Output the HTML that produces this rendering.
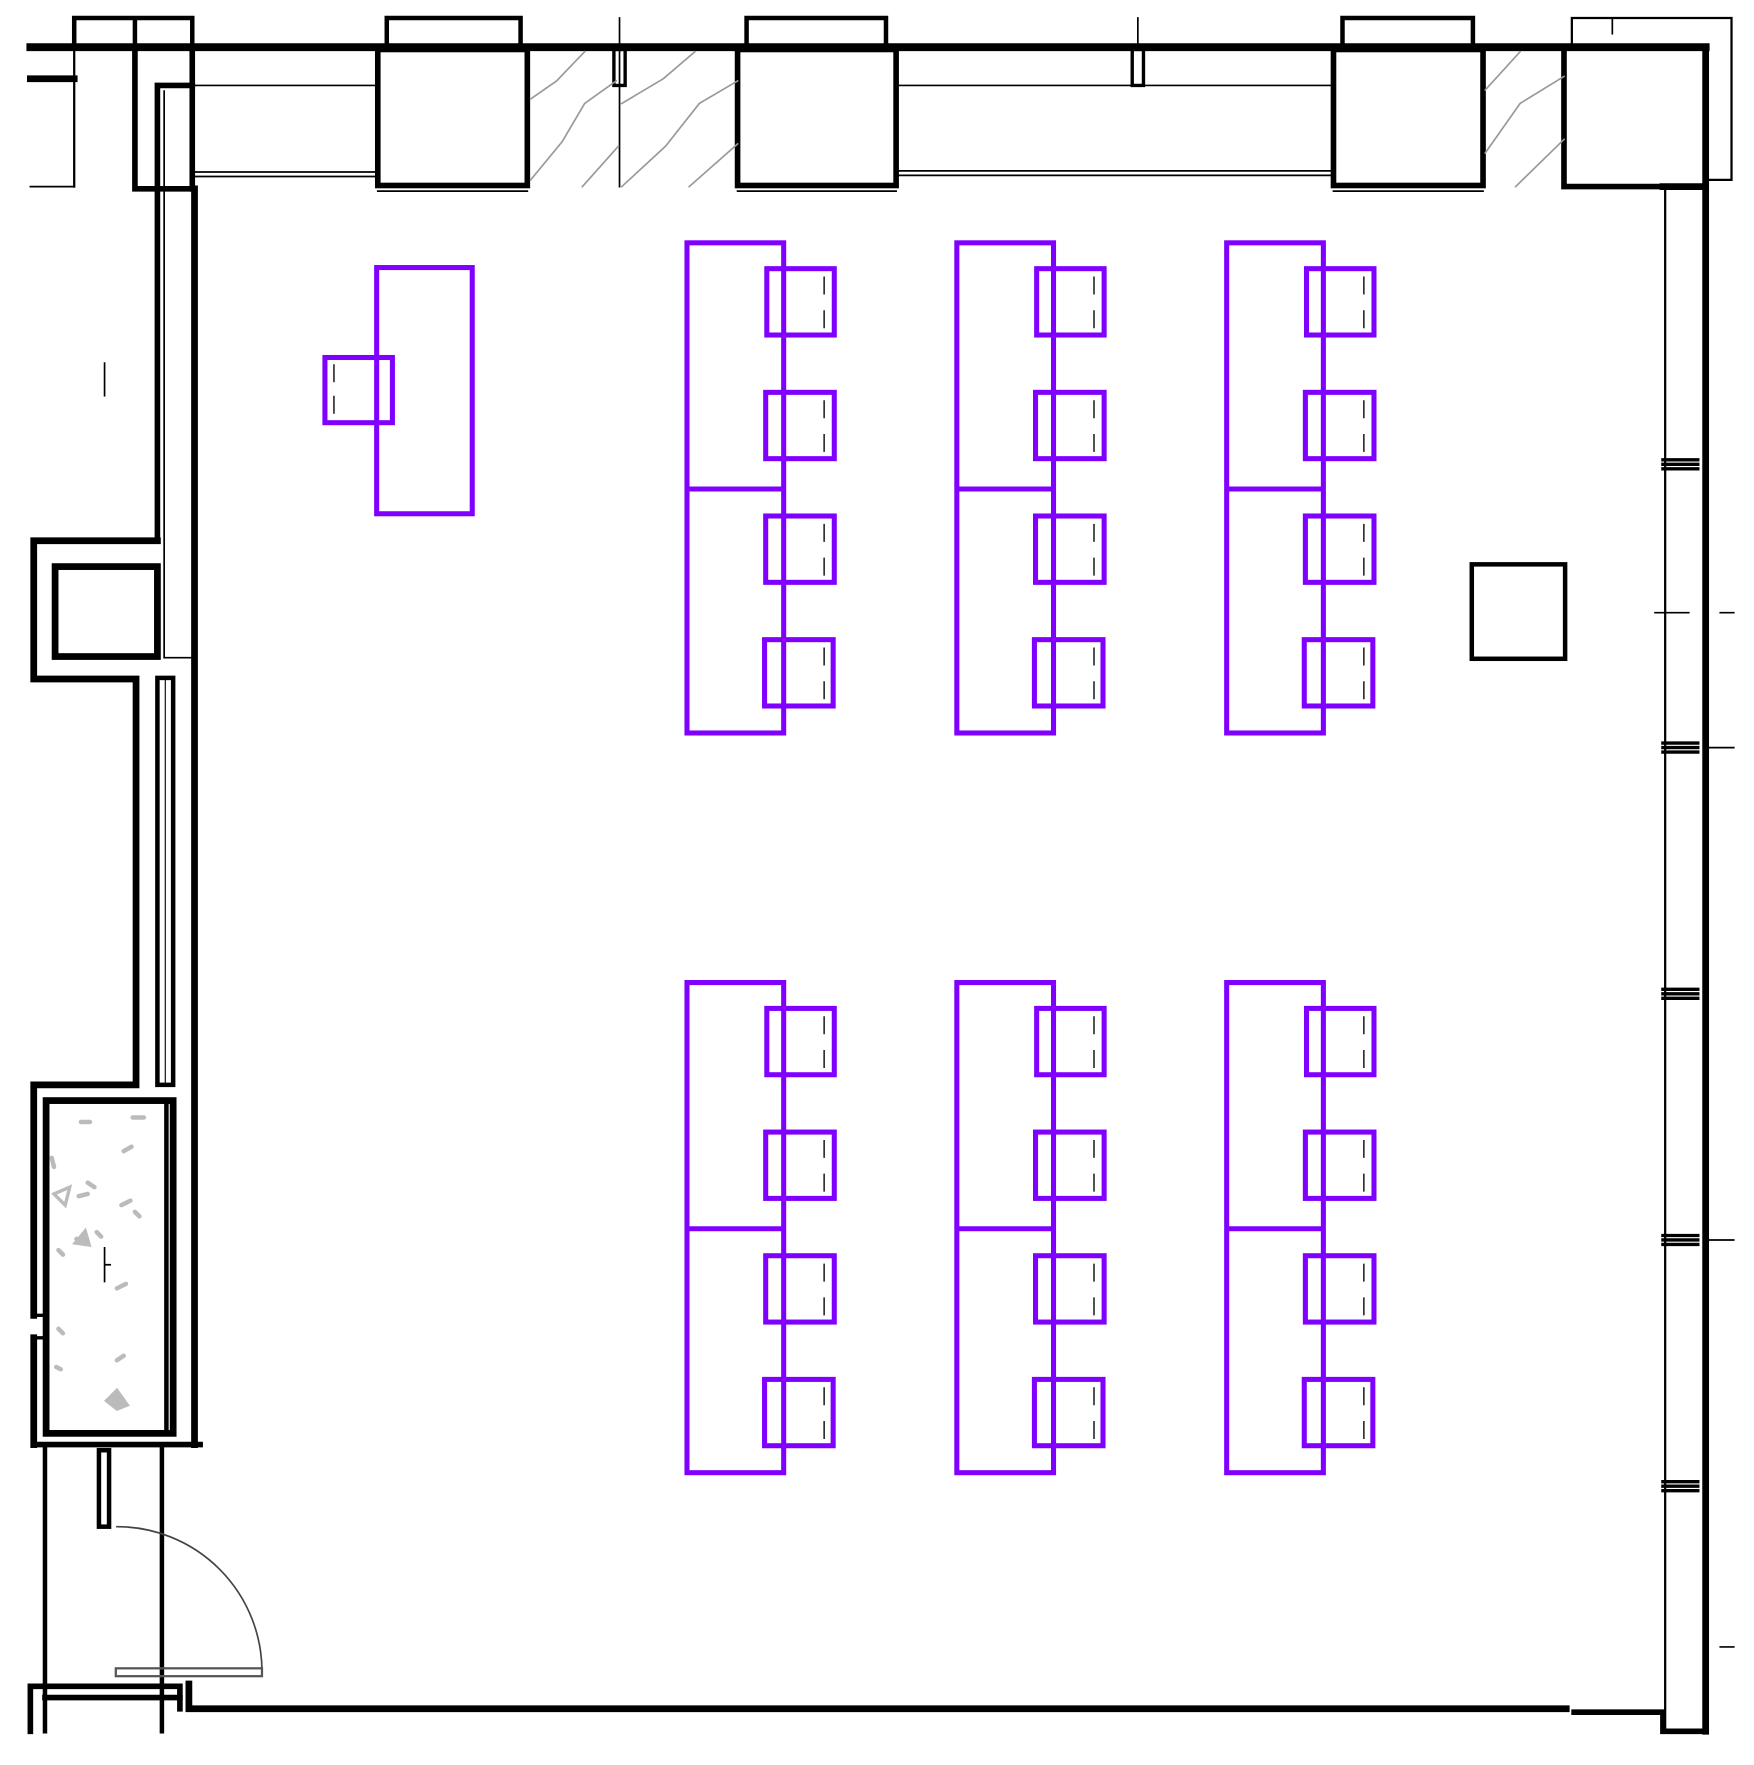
<!DOCTYPE html>
<html><head><meta charset="utf-8"><style>
html,body{margin:0;padding:0;background:#fff}
svg{display:block}
</style></head><body>
<svg width="1754" height="1765" viewBox="0 0 1560 1570" preserveAspectRatio="none" xmlns="http://www.w3.org/2000/svg">
<rect width="1560" height="1570" fill="#fff"/>
<g fill="none" stroke="#000" stroke-linecap="square">
<!-- top thin boxes -->
<g stroke-width="4">
<path d="M66 42V16H171V42M120 16V42"/>
<path d="M344 38V16H463V38"/>
<path d="M664 38V16H788V38"/>
<path d="M1194 38V16H1310V38"/>
</g>
<path d="M1398 38V16H1540V160H1517" stroke-width="2"/>
<path d="M1434 16V30" stroke-width="1.5"/>
<!-- top wall -->
<path d="M27 42H1517" stroke-width="7"/>
<path d="M27 70H66" stroke-width="6"/>
<path d="M27 166H66" stroke-width="1.5"/>
<path d="M66 42V166" stroke-width="2"/>
<path d="M120 42V168H173" stroke-width="5"/>
<path d="M171 42V168" stroke-width="5"/>
<path d="M140 481V76H171" stroke-width="5"/>
<path d="M146 81V585H171" stroke-width="1.5"/>
<!-- columns -->
<g stroke-width="5">
<rect x="336" y="44" width="133" height="121"/>
<rect x="656" y="44" width="141" height="121"/>
<rect x="1186" y="44" width="133" height="121"/>
<path d="M1391 44V166H1479"/>
</g>
<path d="M1517 42V1540" stroke-width="6"/>
<path d="M1479 166H1517" stroke-width="6"/>
<path d="M1481 166V1540" stroke-width="2"/>
<!-- window lines -->
<g stroke-width="1.5">
<path d="M173 76H336M173 153H336M173 157H336"/>
<path d="M797 76H1186M797 152H1186M797 156H1186"/>
<path d="M336 170H469M656 170H797M1186 170H1319"/>
<path d="M551 16V166M1012 16V42"/>
</g>
<rect x="546" y="44" width="10" height="32" stroke-width="3"/>
<rect x="1007" y="44" width="10" height="32" stroke-width="3"/>
<g stroke="#999" stroke-width="1.5">
<path d="M472 88L495 72L520 46M472 160L500 126L520 92L548 72"/>
<path d="M518 166L550 130M553 92L590 70L618 46M553 166L592 130L622 92L656 72M613 166L656 128"/>
<path d="M1321 80L1352 46M1321 136L1352 92L1391 68M1348 166L1391 124"/>
</g>
<!-- left wall / closets -->
<path d="M173 168V1285" stroke-width="6"/>
<path d="M140 481H30V604H121V965H30V1170M30 1190V1285" stroke-width="6"/>
<rect x="49" y="504" width="91" height="80" stroke-width="6"/>
<rect x="140" y="603" width="14" height="362" stroke-width="4"/>
<path d="M147 603V965" stroke-width="1"/>
<rect x="41" y="979" width="113" height="296" stroke-width="6"/>
<path d="M148 979V1275" stroke-width="4"/>
<path d="M30 1285H178" stroke-width="5"/>
<path d="M30 1170H40M30 1190H40" stroke-width="3"/>
<path d="M93 1110V1140M93 1125H98" stroke-width="1.5"/>
<path d="M93 323V352" stroke-width="1.5"/>
<g stroke="#bbb" stroke-width="4" stroke-linecap="round">
<path d="M72 998H80M118 994H128M110 1024L117 1020M46 1030L48 1038M78 1052L84 1056M70 1064L78 1062M108 1072L116 1068M120 1078L124 1082M86 1096L90 1100M68 1102L76 1104M52 1112L56 1116M104 1146L112 1142M52 1182L56 1186M104 1210L110 1206M50 1216L54 1218M98 1248L110 1246"/>
</g>
<path d="M48 1062L62 1056L58 1072Z" fill="none" stroke="#bbb" stroke-width="3"/>
<path d="M66 1106L76 1094L80 1108Z" fill="#bbb" stroke="#bbb" stroke-width="2"/>
<path d="M94 1246L104 1236L114 1250L104 1254Z" fill="#bbb" stroke="#bbb" stroke-width="2"/>
<!-- door area -->
<path d="M40 1285V1540M144 1285V1540" stroke-width="4"/>
<rect x="88" y="1290" width="9" height="68" stroke-width="4"/>
<path d="M104 1358A129 129 0 0 1 233 1488" stroke="#444" stroke-width="1.5"/>
<rect x="103" y="1484" width="130" height="7" stroke="#555" stroke-width="2"/>
<path d="M27 1540V1500H160V1520" stroke-width="5"/>
<path d="M40 1510H160" stroke-width="5"/>
<path d="M168 1498V1520H1393" stroke-width="6"/>
<path d="M1400 1523H1479V1540H1517" stroke-width="5"/>
<!-- right wall bands -->
<g stroke-width="3">
<path d="M1479 409H1510M1479 413H1510M1479 417H1510"/>
<path d="M1479 661H1510M1479 665H1510M1479 669H1510"/>
<path d="M1479 880H1510M1479 884H1510M1479 888H1510"/>
<path d="M1479 1099H1510M1479 1103H1510M1479 1107H1510"/>
<path d="M1479 1318H1510M1479 1322H1510M1479 1326H1510"/>
</g>
<g stroke-width="1.5">
<path d="M1472 545H1502M1530 545H1542M1517 665H1542M1517 1103H1542M1530 1465H1542"/>
</g>
<rect x="1309" y="502" width="83" height="84" stroke-width="4"/>
</g>
<!-- purple furniture -->
<g fill="none" stroke="#8000ff" stroke-width="4.5">
<rect x="335" y="238" width="85" height="219"/>
<rect x="289" y="318" width="60" height="58"/>
</g>
<path d="M297 324V340M297 352V368" stroke="#333" stroke-width="1.5"/>
<defs>
<g id="grp">
<g fill="none" stroke="#8000ff" stroke-width="4.5">
<rect x="0" y="0" width="86" height="436"/>
<path d="M0 219H84"/>
<rect x="71" y="23" width="60" height="59"/>
<rect x="70" y="133" width="61" height="59"/>
<rect x="70" y="243" width="61" height="59"/>
<rect x="69" y="353" width="61" height="59"/>
</g>
<g stroke="#333" stroke-width="1.5">
<path d="M122 30V46M122 60V76M122 140V156M122 170V186M122 250V266M122 280V296M122 360V376M122 390V406"/>
</g>
</g>
</defs>
<use href="#grp" x="611" y="216"/>
<use href="#grp" x="851" y="216"/>
<use href="#grp" x="1091" y="216"/>
<use href="#grp" x="611" y="874"/>
<use href="#grp" x="851" y="874"/>
<use href="#grp" x="1091" y="874"/>
</svg>
</body></html>
